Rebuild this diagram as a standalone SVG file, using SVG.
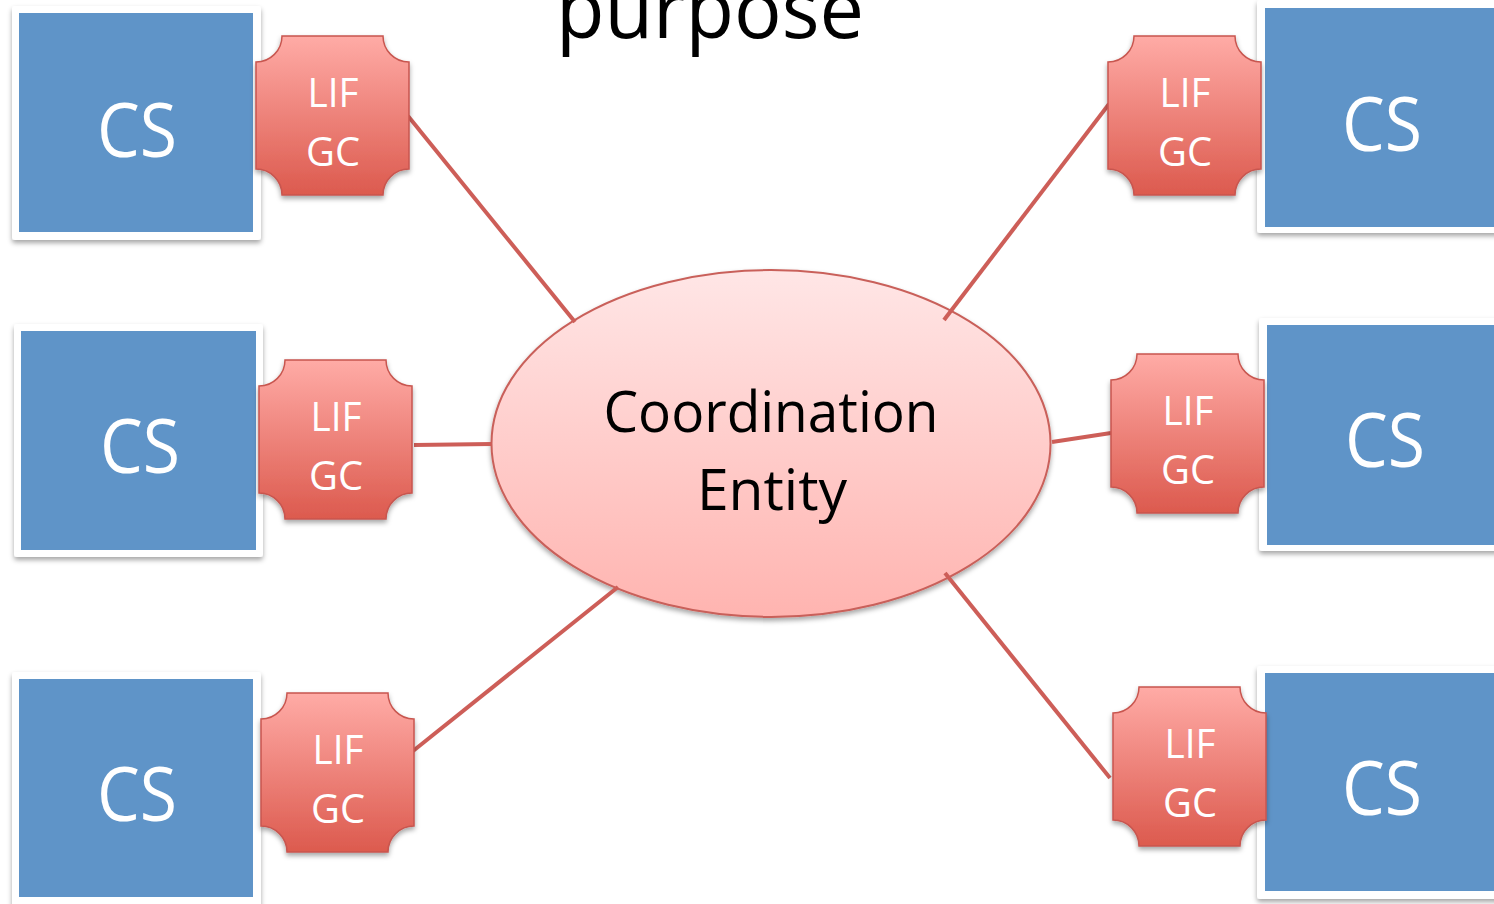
<svg xmlns="http://www.w3.org/2000/svg" xmlns:xlink="http://www.w3.org/1999/xlink" width="1494" height="904" viewBox="0 0 1494 904">
<defs>
<linearGradient id="lifGrad" x1="0" y1="0" x2="0" y2="1">
<stop offset="0" stop-color="#ffaba6"/>
<stop offset="1" stop-color="#dc5a4e"/>
</linearGradient>
<linearGradient id="ellGrad" x1="0" y1="0" x2="0" y2="1">
<stop offset="0" stop-color="#ffe6e6"/>
<stop offset="1" stop-color="#ffb4b0"/>
</linearGradient>
<filter id="shadow" x="-10%" y="-10%" width="120%" height="125%">
<feDropShadow dx="0" dy="3" stdDeviation="2.5" flood-color="#000" flood-opacity="0.35"/>
</filter>
<path id="plaque" d="M26,0 H127 A26,26 0 0 0 153,26 V133 A26,26 0 0 0 127,159 H26 A26,26 0 0 0 0,133 V26 A26,26 0 0 0 26,0 Z"/>
</defs>
<style>
.frame{fill:#ffffff;filter:url(#shadow);}
.blue{fill:#5f94c8;}
.cs{font-family:"Open Sans","Liberation Sans",sans-serif;font-size:75px;fill:#ffffff;text-anchor:middle;}
.lif{fill:url(#lifGrad);stroke:#c8564f;stroke-width:1.5;filter:url(#shadow);}
.lt{font-family:"Open Sans","Liberation Sans",sans-serif;font-size:41px;fill:#ffffff;text-anchor:middle;}
.conn{stroke:#cd5e58;stroke-width:4;fill:none;}
.ce{font-family:"Open Sans","Liberation Sans",sans-serif;font-size:57px;fill:#000000;text-anchor:middle;}
</style>
<rect width="1494" height="904" fill="#ffffff"/>
<text x="710" y="38" font-family="'Open Sans','Liberation Sans',sans-serif" font-size="80" fill="#000000" text-anchor="middle" textLength="308" lengthAdjust="spacingAndGlyphs">purpose</text>

<g id="cs-left-1">
<rect class="frame" x="12" y="6" width="249" height="234" rx="3"/>
<rect class="blue" x="19" y="13" width="234" height="219"/>
<text class="cs" x="137" y="157" textLength="80" lengthAdjust="spacingAndGlyphs">CS</text>
</g>
<g id="cs-left-2">
<rect class="frame" x="14" y="324" width="249" height="233" rx="3"/>
<rect class="blue" x="21" y="331" width="235" height="219"/>
<text class="cs" x="140" y="473" textLength="80" lengthAdjust="spacingAndGlyphs">CS</text>
</g>
<g id="cs-left-3">
<rect class="frame" x="12" y="672" width="249" height="245" rx="3"/>
<rect class="blue" x="19" y="679" width="234" height="218"/>
<text class="cs" x="137" y="821" textLength="80" lengthAdjust="spacingAndGlyphs">CS</text>
</g>
<g id="cs-right-1">
<rect class="frame" x="1257" y="0" width="250" height="233" rx="3"/>
<rect class="blue" x="1265" y="8" width="240" height="219"/>
<text class="cs" x="1382" y="151" textLength="80" lengthAdjust="spacingAndGlyphs">CS</text>
</g>
<g id="cs-right-2">
<rect class="frame" x="1259" y="318" width="250" height="233" rx="3"/>
<rect class="blue" x="1267" y="325" width="240" height="220"/>
<text class="cs" x="1385" y="467" textLength="80" lengthAdjust="spacingAndGlyphs">CS</text>
</g>
<g id="cs-right-3">
<rect class="frame" x="1257" y="666" width="250" height="233" rx="3"/>
<rect class="blue" x="1265" y="673" width="240" height="218"/>
<text class="cs" x="1382" y="815" textLength="80" lengthAdjust="spacingAndGlyphs">CS</text>
</g>

<g id="ce">
<ellipse cx="771" cy="443.5" rx="279.5" ry="173.5" fill="url(#ellGrad)" stroke="#c9605a" stroke-width="2" filter="url(#shadow)"/>
<text class="ce" x="771" y="432" textLength="335" lengthAdjust="spacingAndGlyphs">Coordination</text>
<text class="ce" x="772" y="510">Entity</text>
</g>

<g id="connectors">
<line class="conn" x1="408" y1="116" x2="575" y2="322"/>
<line class="conn" x1="414" y1="445" x2="492" y2="444"/>
<line class="conn" x1="413" y1="751" x2="618" y2="587"/>
<line class="conn" x1="1109" y1="104" x2="944" y2="320"/>
<line class="conn" x1="1052" y1="442" x2="1111" y2="433"/>
<line class="conn" x1="945" y1="573" x2="1110" y2="778"/>
</g>

<g id="lif-left-1" transform="translate(256,36)">
<use xlink:href="#plaque" class="lif"/>
<text class="lt" x="77" y="71" textLength="51" lengthAdjust="spacingAndGlyphs">LIF</text>
<text class="lt" x="77" y="130" textLength="54" lengthAdjust="spacingAndGlyphs">GC</text>
</g>
<g id="lif-left-2" transform="translate(259,360)">
<use xlink:href="#plaque" class="lif"/>
<text class="lt" x="77" y="71" textLength="51" lengthAdjust="spacingAndGlyphs">LIF</text>
<text class="lt" x="77" y="130" textLength="54" lengthAdjust="spacingAndGlyphs">GC</text>
</g>
<g id="lif-left-3" transform="translate(261,693)">
<use xlink:href="#plaque" class="lif"/>
<text class="lt" x="77" y="71" textLength="51" lengthAdjust="spacingAndGlyphs">LIF</text>
<text class="lt" x="77" y="130" textLength="54" lengthAdjust="spacingAndGlyphs">GC</text>
</g>
<g id="lif-right-1" transform="translate(1108,36)">
<use xlink:href="#plaque" class="lif"/>
<text class="lt" x="77" y="71" textLength="51" lengthAdjust="spacingAndGlyphs">LIF</text>
<text class="lt" x="77" y="130" textLength="54" lengthAdjust="spacingAndGlyphs">GC</text>
</g>
<g id="lif-right-2" transform="translate(1111,354)">
<use xlink:href="#plaque" class="lif"/>
<text class="lt" x="77" y="71" textLength="51" lengthAdjust="spacingAndGlyphs">LIF</text>
<text class="lt" x="77" y="130" textLength="54" lengthAdjust="spacingAndGlyphs">GC</text>
</g>
<g id="lif-right-3" transform="translate(1113,687)">
<use xlink:href="#plaque" class="lif"/>
<text class="lt" x="77" y="71" textLength="51" lengthAdjust="spacingAndGlyphs">LIF</text>
<text class="lt" x="77" y="130" textLength="54" lengthAdjust="spacingAndGlyphs">GC</text>
</g>
</svg>
